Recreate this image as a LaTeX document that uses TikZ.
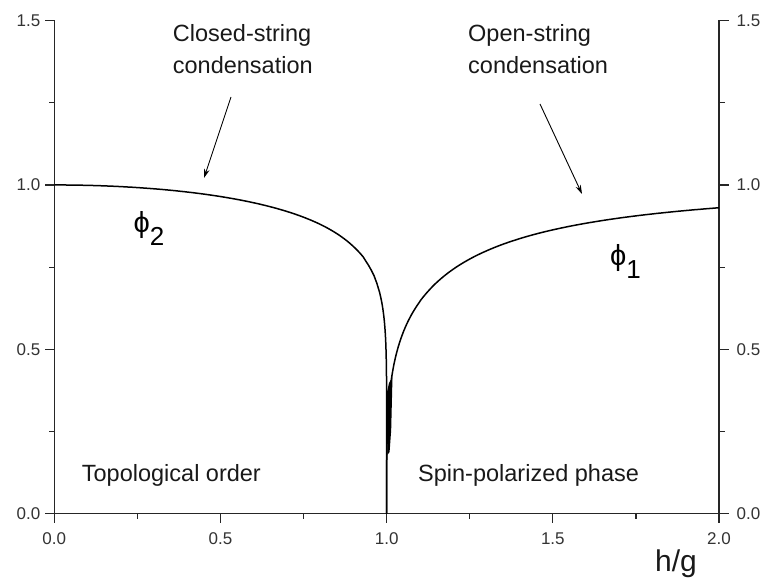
\documentclass[tikz,border=0pt]{standalone}
\usepackage{fontspec}
\setmainfont{Liberation Sans}
\usetikzlibrary{arrows.meta}
\begin{document}
\begin{tikzpicture}[x=1pt,y=-1pt,
  declare function={px(\h)=54.3+332.35*\h; py(\v)=513.7-328.7*\v;},
  axisline/.style={line width=1.2pt,black!85,line cap=rect},
  curve/.style={line width=1.5pt,black,line join=round},
  ticklabel/.style={font=\fontsize{17}{18}\selectfont,text=black!80,inner sep=0pt},
  annot/.style={font=\fontsize{23.5}{28}\selectfont,inner sep=0pt,anchor=base west,text=black!90},
  philabel/.style={font=\fontsize{29}{30}\selectfont,inner sep=0pt,anchor=base west},
  pointer/.style={line width=0.9pt,-{Stealth[length=9pt,width=5.5pt]}}]
\useasboundingbox (0,0) rectangle (761,578);
% axes
\draw[axisline] ({px(0)},{py(1.5)}) -- ({px(0)},{py(0)}) -- ({px(2)},{py(0)}) -- ({px(2)},{py(1.5)});
\foreach \h/\t [count=\i] in {0/0.0,0.5/0.5,1/1.0,1.5/1.5,2/2.0}{
  \draw[axisline] ({px(\h)},{py(0)}) -- ++(0,9);
  \node[ticklabel] (xl\i) at ({px(\h)},539) {\t};
}
\foreach \h in {0.25,0.75,1.25,1.75}
  \draw[axisline] ({px(\h)},{py(0)}) -- ++(0,5);
\foreach \v/\t [count=\i] in {0/0.0,0.5/0.5,1/1.0,1.5/1.5}{
  \draw[axisline] ({px(0)},{py(\v)}) -- ++(-9,0);
  \draw[axisline] ({px(2)},{py(\v)}) -- ++(9,0);
  \node[ticklabel,anchor=east] (yl\i) at (40.5,{py(\v)}) {\t};
  \node[ticklabel,anchor=west] (yr\i) at (736.5,{py(\v)}) {\t};
}
\foreach \v in {0.25,0.75,1.25}{
  \draw[axisline] ({px(0)},{py(\v)}) -- ++(-5,0);
  \draw[axisline] ({px(2)},{py(\v)}) -- ++(5,0);
}
% curves
\draw[curve] plot[domain=0:0.98,samples=120] ({px(\x)},{py((1-\x*\x)^0.125)})
  -- plot[domain=0.668:0,samples=80] ({px(sqrt(1-\x^8))},{py(\x)});
\draw[curve] plot[domain=2:1.1,samples=100] ({px(\x)},{py((1-1/(\x*\x))^0.25)})
  -- plot[domain=0.6455:0,samples=80] ({px(1/sqrt(1-\x^4))},{py(\x)});
\fill[black] (387,392) -- (389,383) -- (392.5,377) -- (391.2,430) -- (389.6,452) -- (387.3,455) -- cycle;
% labels
\node[annot] (closed1) at (172.7,41.7) {Closed-string};
\node[annot] (closed2) at (172.7,73.3) {condensation};
\node[annot] (open1) at (468,41.7) {Open-string};
\node[annot] (open2) at (468,73.3) {condensation};
\node[annot] (topo) at (81.7,481.7) {Topological order};
\node[annot] (spin) at (418,481.7) {Spin-polarized phase};
\node[annot,font=\fontsize{30}{32}\selectfont] (hg) at (655,571) {h/g};
\node[philabel] (phi2) at (133.5,232.7) {ϕ\raisebox{-13pt}{\fontsize{26}{28}\selectfont 2}};
\node[philabel] (phi1) at (610,265) {ϕ\raisebox{-13pt}{\fontsize{26}{28}\selectfont 1}};
% arrows
\coordinate (closedstart) at (231,97);
\coordinate (closedtip) at (204,178);
\coordinate (openstart) at (540,104);
\coordinate (opentip) at (582,194);
\draw[pointer] (closedstart) -- (closedtip);
\draw[pointer] (openstart) -- (opentip);
\end{tikzpicture}
\end{document}
